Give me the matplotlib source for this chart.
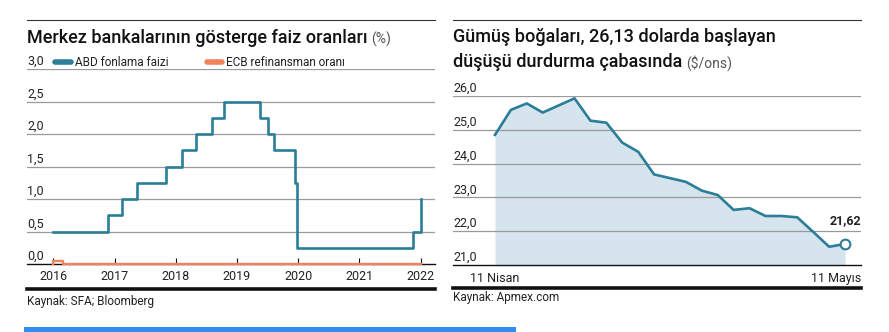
import matplotlib.pyplot as plt
from matplotlib.lines import Line2D
from matplotlib.patches import Rectangle
from matplotlib.transforms import ScaledTranslation

plt.rcParams['font.family'] = ['Roboto', 'DejaVu Sans']

W, H = 889, 332

# Fed funds rate (upper bound), step changes by year fraction
fed_years = [2016.0, 2016.89, 2017.12, 2017.36, 2017.84, 2018.10, 2018.33, 2018.59,
             2018.79, 2019.38, 2019.50, 2019.61, 2019.95, 2019.98, 2021.87, 2022.01]
fed_rates = [0.5, 0.75, 1.0, 1.25, 1.5, 1.75, 2.0, 2.25,
             2.5, 2.25, 2.0, 1.75, 1.25, 0.25, 0.5, 1.0]
ecb_years = [2016.0, 2016.0, 2016.16, 2022.01]
ecb_rates = [0.0, 0.05, 0.0, 0.0]
year_ticks = [2016, 2017, 2018, 2019, 2020, 2021, 2022]
rate_ticks = [0.0, 0.5, 1.0, 1.5, 2.0, 2.5, 3.0]

# Silver price, daily from 11 April to 11 May
silver = [24.85, 25.59, 25.78, 25.51, 25.72, 25.93, 25.27, 25.21, 24.62, 24.35, 23.68, 23.57,
          23.46, 23.20, 23.07, 22.63, 22.68, 22.45, 22.45, 22.41, 21.98, 21.54, 21.62]
silver_labels = ['11 Nisan', '11 Mayıs']
price_ticks = [21, 22, 23, 24, 25, 26]

TEAL = '#2b7d98'
ORANGE = '#f0825c'
FILL = '#d6e4ee'
GRID = '#9a9a9a'
TXT = '#222222'


def fx(px):
    return px / W


def fy(py):
    return 1 - py / H


fig = plt.figure(figsize=(W / 100, H / 100), dpi=100)
fig.patch.set_facecolor('white')


def style_axes(ax, yticks, ymin, fmt):
    for s in ['left', 'right', 'top']:
        ax.spines[s].set_visible(False)
    ax.spines['bottom'].set_color('#111111')
    ax.spines['bottom'].set_linewidth(1.0)
    ax.set_yticks([])
    for v in yticks:
        if v != ymin:
            ax.axhline(v, color=GRID, lw=0.9, zorder=1)
        ax.annotate(fmt(v), xy=(0, v), xycoords=ax.get_yaxis_transform(),
                    xytext=(0, 0.8), textcoords='offset points',
                    ha='left', va='bottom', fontsize=9, color=TXT)


# ---- left: policy rates ----
ax1 = fig.add_axes([fx(27), fy(264), fx(435) - fx(27), fy(69) - fy(264)])
ax1.set_xlim(2016 + (27 - 53.3) / 61.2, 2016 + (435 - 53.3) / 61.2)
ax1.set_ylim(0, 3)
style_axes(ax1, rate_ticks, 0.0, lambda v: f'{v:.1f}'.replace('.', ','))
ax1.step(fed_years, fed_rates, where='post', color=TEAL, lw=1.9, zorder=3)
ax1.step(ecb_years, ecb_rates, where='post', color=ORANGE, lw=1.7, zorder=4, clip_on=False)
ax1.set_xticks(year_ticks)
ax1.set_xticklabels([str(y) for y in year_ticks])
ax1.tick_params(axis='x', direction='in', length=4, width=0.8, color='#111111',
                pad=4, labelsize=9, labelcolor=TXT)

# legend
for x0, x1, col, lab in [(55, 71, TEAL, 'ABD fonlama faizi'),
                         (207, 222, ORANGE, 'ECB refinansman oranı')]:
    fig.add_artist(Line2D([fx(x0), fx(x1)], [fy(62), fy(62)], color=col, lw=4,
                          solid_capstyle='round'))
    fig.text(fx(x1 + 4), fy(62), lab, ha='left', va='center', fontsize=8.5, color=TXT)

# ---- right: silver ----
ax2 = fig.add_axes([fx(453), fy(265), fx(861) - fx(453), fy(96) - fy(265)])
step = 350 / 22
ax2.set_xlim((453 - 495) / step, 22 + (861 - 845) / step)
ax2.set_ylim(21, 26)
style_axes(ax2, price_ticks, 21, lambda v: f'{v:.1f}'.replace('.', ','))
idx = list(range(len(silver)))
ax2.fill_between(idx, silver, 21, color=FILL, lw=0, zorder=0)
ax2.plot(idx, silver, color=TEAL, lw=1.9, zorder=3, solid_joinstyle='round')
ax2.plot(idx[-1], silver[-1], 'o', ms=7, mfc='white', mec=TEAL, mew=1.5, zorder=4)
ax2.annotate(f'{silver[-1]:.2f}'.replace('.', ','), xy=(idx[-1], silver[-1]),
             xytext=(0, 12), textcoords='offset points', ha='center', va='bottom',
             fontsize=9, fontweight='bold', color=TXT)
ax2.set_xticks([idx[0], idx[-1]])
ax2.set_xticklabels(silver_labels)
ax2.tick_params(axis='x', length=0, pad=5, labelsize=9, labelcolor=TXT)
last = ax2.get_xticklabels()[-1]
last.set_horizontalalignment('right')
last.set_transform(last.get_transform() + ScaledTranslation(16 / 100, 0, fig.dpi_scale_trans))

# ---- titles, rules, sources ----
for x0, x1 in [(27, 435), (453, 861)]:
    fig.add_artist(Line2D([fx(x0), fx(x1)], [fy(20), fy(20)], color='#333333', lw=0.8))

titles = [(27, 38, 'Merkez bankalarının gösterge faiz oranları', '(%)'),
          (453, 37, 'Gümüş boğaları, 26,13 dolarda başlayan', None),
          (453, 62, 'düşüşü durdurma çabasında', '($/ons)')]
renderer = fig.canvas.get_renderer()
for x, y, head, unit in titles:
    t = fig.text(fx(x), fy(y), head, ha='left', va='center', fontsize=13,
                 fontweight='medium', color='#111111')
    if unit:
        end = t.get_window_extent(renderer).x1
        fig.text((end + 4) / W, fy(y + 1), unit, ha='left', va='center',
                 fontsize=10, color='#555555')

fig.add_artist(Line2D([fx(27), fx(435)], [fy(289), fy(289)], color='#111111', lw=2.6))
fig.add_artist(Line2D([fx(453), fx(861)], [fy(288), fy(288)], color='#111111', lw=2.6))
fig.text(fx(27), fy(301), 'Kaynak: SFA; Bloomberg', ha='left', va='center',
         fontsize=8.5, color=TXT)
fig.text(fx(453), fy(298), 'Kaynak: Apmex.com', ha='left', va='center',
         fontsize=8.5, color=TXT)

fig.add_artist(Rectangle((fx(24), 0), fx(516) - fx(24), fy(327), transform=fig.transFigure,
                         color='#2f8ef0', lw=0))

fig.savefig('out.png', dpi=100)
